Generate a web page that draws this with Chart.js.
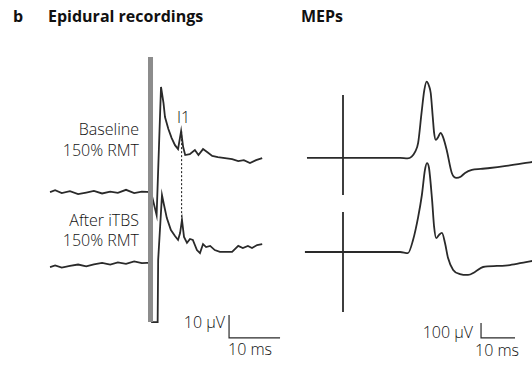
<!DOCTYPE html>
<html lang="en">
<head>
    <meta charset="UTF-8" />
    <title>Epidural recordings and MEPs</title>
    <script src="https://cdn.jsdelivr.net/npm/chart.js"></script>
    <style>
        body { margin: 0; width: 532px; height: 368px; position: relative; background: #fff; overflow: hidden; }
        .t { position: absolute; font-family: "Open Sans", sans-serif; font-size: 16px; line-height: 16px; color: #111; white-space: nowrap; font-weight: 300; }
        .b { font-weight: 700; color: #111; }
        .r { text-align: right; }
        canvas { position: absolute; top: 40px; }
    </style>
</head>
<body>
    <div class="t b" style="left:13px;top:8px">b</div>
    <div class="t b" style="left:48px;top:8px">Epidural recordings</div>
    <div class="t b" style="left:301px;top:8px">MEPs</div>

    <div class="t r" style="left:9px;width:130px;top:121px">Baseline</div>
    <div class="t r" style="left:9px;width:130px;top:142px">150% RMT</div>
    <div class="t r" style="left:9px;width:130px;top:212px">After iTBS</div>
    <div class="t r" style="left:9px;width:130px;top:232px">150% RMT</div>
    <div class="t" style="left:177px;top:109px">I1</div>
    <div class="t r" style="left:145px;width:80px;top:314px">10 μV</div>
    <div class="t" style="left:228px;top:341px">10 ms</div>
    <div class="t r" style="left:393px;width:80px;top:324px">100 μV</div>
    <div class="t" style="left:475px;top:342px">10 ms</div>

    <canvas id="epiChart" width="290" height="325" style="left:0"></canvas>
    <canvas id="mepChart" width="242" height="325" style="left:290px"></canvas>

    <script>
        // epidural, baseline 150% RMT (ms, µV)
        const epiBaseTime = [-19.6, -18.6, -17.3, -15.7, -14.1, -12.5, -11.0, -9.4, -7.8, -6.3, -4.7, -3.1, -1.6, 0.2,
            1.3, 2.16, 2.65, 2.94, 3.6, 4.25, 4.9, 5.5, 6.1, 6.5, 6.9, 7.8, 8.8, 9.5, 10.4, 11.2, 12.2, 13.3, 14.7,
            16.1, 17.3, 18.4, 19.6, 20.8, 22.0];
        const epiBaseUv = [0, 0.8, -0.4, 0.4, -0.9, -0.2, 0.5, -0.6, 0.2, -0.3, 1.0, -0.4, 0.2, 0,
            -10, 45.7, 38.7, 32.6, 27.4, 23.5, 20.4, 18.7, 26.5, 19.6, 16.1, 16.5, 18.3, 16.1, 18.7, 17.4, 15.7, 15.2, 14.8,
            14.3, 13.5, 13.9, 12.6, 13.9, 14.8];

        // epidural, after iTBS 150% RMT (ms, µV)
        const epiItbsTime = [-19.6, -18.6, -17.3, -15.7, -14.1, -12.5, -11.0, -9.4, -7.8, -6.3, -4.7, -3.1, -1.6, 0.3,
            0.4, 1.5, 1.6, 2.35, 2.75, 3.3, 4.1, 4.9, 5.5, 5.9, 6.27, 6.67, 7.25, 7.84, 8.4, 9.2, 9.8, 10.4, 11.0, 11.8,
            12.7, 13.7, 14.9, 16.1, 17.3, 18.2, 19.2, 20.0, 21.0, 22.0];
        const epiItbsUv = [-0.9, -0.2, -1.1, -0.4, 0.2, -0.6, 0.3, 0.9, 0.2, 1.1, 0.5, 1.6, 0.8, 1.0,
            -24.8, -24.8, 2.2, 30.4, 26.1, 20.4, 15.2, 12.6, 10.9, 13.9, 19.6, 12.2, 9.6, 11.3, 10.9, 6.5, 5.2, 9.1, 7.8, 8.3,
            6.5, 5.7, 5.7, 5.7, 8.3, 7.4, 8.3, 7.4, 8.7, 9.1];

        // MEPs, baseline and after iTBS (ms, µV)
        const mepBaseTime = [-10.6, 16.8, 19.0, 20.2, 21.2, 22.1, 23.1, 23.9, 24.6, 25.3, 25.8, 26.4, 26.8, 27.3, 28.0,
            28.7, 29.4, 30.5, 32.0, 33.4, 34.6, 35.9, 37.9, 40.5, 43.2, 48.0, 53.8, 55.6];
        const mepBaseUv = [0, 0, -3, 9, 40, 100, 300, 450, 509, 480, 433, 273, 167, 120, 140,
            167, 140, 53, -100, -133, -125, -100, -80, -73, -67, -53, -33, -27];
        const mepItbsTime = [-11.2, 16.8, 19.1, 20.6, 22.1, 23.2, 24.1, 24.7, 25.3, 26.2, 26.8, 27.4, 28.2, 29.1, 30.0,
            30.9, 32.4, 34.4, 36.8, 38.8, 41.2, 45.3, 49.1, 53.8, 55.6];
        const mepItbsUv = [0, 0, -7, 80, 233, 380, 547, 593, 560, 347, 167, 93, 113, 127, 60,
            -40, -120, -147, -153, -133, -100, -93, -87, -67, -60];

        // stimulus artefacts (µV extent) and I1 latency
        const epiArtefactUv = [90.4, -24.8];
        const mepBaseArtefactUv = [420, -247];
        const mepItbsArtefactUv = [267, -400];
        const i1Ms = 6.2;

        // display settings
        const epiOffset = 31.7;   // µV shift of the baseline trace
        const mepOffset = 627;    // µV shift of the baseline trace
        const ink = '#2a2a2a';

        function pts(xs, ys, shift) {
            return xs.map((x, i) => ({ x: x, y: ys[i] + (shift || 0) }));
        }

        function line(data, extra) {
            return Object.assign({
                data: data, borderColor: ink, borderWidth: 1.8, pointRadius: 0,
                tension: 0, fill: false
            }, extra || {});
        }

        function opts(xmin, xmax, ymin, ymax) {
            return {
                responsive: false, animation: false,
                layout: { padding: 0 },
                plugins: { legend: { display: false }, tooltip: { enabled: false } },
                scales: {
                    x: { type: 'linear', display: false, min: xmin, max: xmax },
                    y: { type: 'linear', display: false, min: ymin, max: ymax },
                },
            };
        }

        new Chart(document.getElementById('epiChart'), {
            type: 'line',
            data: {
                datasets: [
                    line([{ x: 0.1, y: epiArtefactUv[0] }, { x: 0.1, y: epiArtefactUv[1] }], { borderColor: '#8c8c8c', borderWidth: 5 }),
                    line([{ x: 0.2, y: 59.6 }, { x: 0.2, y: epiArtefactUv[1] }], { borderColor: '#111', borderWidth: 2 }),
                    line(pts(epiBaseTime, epiBaseUv, epiOffset)),
                    line(pts(epiItbsTime, epiItbsUv)),
                    line([{ x: i1Ms, y: 26.5 + epiOffset }, { x: i1Ms, y: 19.6 }], { borderWidth: 1, borderDash: [2, 2], borderColor: '#111' }),
                    line([{ x: 15.5, y: -21.7 }, { x: 15.5, y: -31.7 }, { x: 25.5, y: -31.7 }], { borderWidth: 1.2 }),
                ],
            },
            options: opts(-29.41, 27.45, -43.48, 97.83),
        });

        new Chart(document.getElementById('mepChart'), {
            type: 'line',
            data: {
                datasets: [
                    line([{ x: 0, y: mepBaseArtefactUv[0] + mepOffset }, { x: 0, y: mepBaseArtefactUv[1] + mepOffset }]),
                    line([{ x: 0, y: mepItbsArtefactUv[0] }, { x: 0, y: mepItbsArtefactUv[1] }]),
                    line(pts(mepBaseTime, mepBaseUv, mepOffset), { cubicInterpolationMode: 'monotone' }),
                    line(pts(mepItbsTime, mepItbsUv), { cubicInterpolationMode: 'monotone' }),
                    line([{ x: 40.6, y: -473 }, { x: 40.6, y: -573 }, { x: 50.6, y: -573 }], { borderWidth: 1.2 }),
                ],
            },
            options: opts(-15.59, 55.59, -753.3, 1413.3),
        });
    </script>
</body>
</html>
